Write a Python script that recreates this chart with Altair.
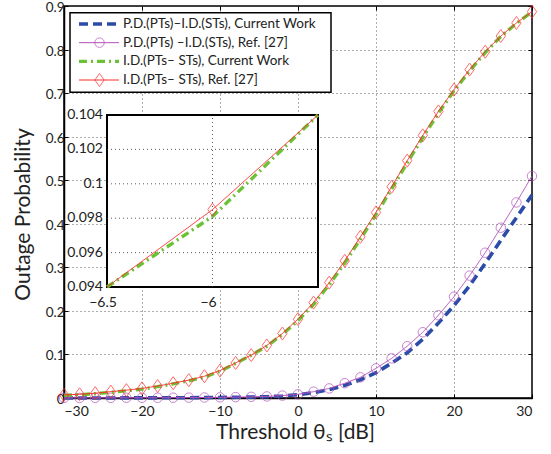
import altair as alt
import pandas as pd

# ---------------- data ----------------
x_db = list(range(-30, 31, 2))

# P.D.(PTs)-I.D.(STs), Current Work  (blue dashed)
pd_cur = [0.0, 0.0, 0.0001, 0.0001, 0.0002, 0.0003, 0.0004, 0.0005, 0.0007, 0.0009,
          0.0012, 0.0016, 0.0021, 0.003, 0.0045, 0.0075, 0.0125, 0.019, 0.029, 0.042,
          0.058, 0.080, 0.104, 0.135, 0.172, 0.212, 0.258, 0.309, 0.362, 0.414, 0.466]
# P.D.(PTs)-I.D.(STs), Ref. [27]  (magenta circles)
pd_ref = [0.0002, 0.0002, 0.0003, 0.0003, 0.0004, 0.0005, 0.0006, 0.0007, 0.0009, 0.0011,
          0.0015, 0.002, 0.0027, 0.0036, 0.0055, 0.0085, 0.0145, 0.022, 0.034, 0.0475,
          0.068, 0.091, 0.119, 0.151, 0.190, 0.2325, 0.281, 0.3335, 0.391, 0.449, 0.5096]
# I.D.(PTs-STs), Current Work  (green dash-dot)
id_cur = [0.006, 0.0075, 0.0098, 0.013, 0.0165, 0.0205, 0.026, 0.0325, 0.0395, 0.048,
          0.0615, 0.0795, 0.0981, 0.119, 0.146, 0.178, 0.215, 0.260, 0.310, 0.365,
          0.421, 0.480, 0.540, 0.598, 0.654, 0.705, 0.751, 0.793, 0.830, 0.860, 0.887]
# I.D.(PTs-STs), Ref. [27]  (red diamonds)
id_ref = [0.007, 0.0085, 0.011, 0.0145, 0.018, 0.022, 0.0275, 0.034, 0.041, 0.050,
          0.063, 0.0805, 0.0985, 0.1205, 0.148, 0.181, 0.219, 0.265, 0.315, 0.370,
          0.426, 0.485, 0.545, 0.603, 0.658, 0.708, 0.754, 0.795, 0.831, 0.861, 0.887]

series_names = [
    "P.D.(PTs)\u2013I.D.(STs), Current Work",
    "P.D.(PTs) \u2013I.D.(STs), Ref. [27]",
    "I.D.(PTs\u2013 STs), Current Work",
    "I.D.(PTs\u2013 STs), Ref. [27]",
]
series_values = [pd_cur, pd_ref, id_cur, id_ref]

x_ticks = [-30, -20, -10, 0, 10, 20, 30]
y_ticks = [0, 0.1, 0.2, 0.3, 0.4, 0.5, 0.6, 0.7, 0.8, 0.9]
inset_x_ticks = [-6.5, -6]
inset_x_labels = ["\u22126.5", "\u22126"]
inset_y_ticks = [0.094, 0.096, 0.098, 0.1, 0.102, 0.104]
inset_y_labels = ["0.094", "0.096", "0.098", "0.1", "0.102", "0.104"]
inset_x_dom = [-6.5, -5.5]
inset_y_dom = [0.094, 0.104]

# ---------------- styles ----------------
colors = ["#2a4ba8", "#b44fbb", "#6cc236", "#ff2b2b"]
dashes = [[9, 5], [1, 0], [8, 4, 2, 4], [1, 0]]
widths = [3.6, 1.0, 3.4, 1.0]
FONT = "Lato"
TXT = "#222"
DIAMOND = "M0,-1L0.72,0L0,1L-0.72,0Z"
W, H = 468, 392
INSET_X = [43, 254]
INSET_Y = [281, 109]

frames = []
for name, vals in zip(series_names, series_values):
    frames.append(pd.DataFrame({"x": x_db, "y": vals, "series": name}))
df = pd.concat(frames, ignore_index=True)

tick_in = {"expr": "-4"}

# ---------------- main plot ----------------
main_x_axis = alt.Axis(values=x_ticks, grid=True, gridDash=[1, 3], gridColor="#333",
                       gridOpacity=0.8, domainColor="black", domainWidth=1.5,
                       tickColor="black", tickSize=tick_in, labelPadding=10,
                       labelFontSize=14, labelColor=TXT, title="Threshold \u03b8\u209b [dB]",
                       titleFontSize=21, titleFontWeight="normal", titleX=231, titleY=34,
                       titleBaseline="middle", titleColor=TXT)
main_y_axis = alt.Axis(values=y_ticks, grid=True, gridDash=[1, 3], gridColor="#333",
                       gridOpacity=0.8, domainColor="black", domainWidth=1.5,
                       tickColor="black", tickSize=tick_in, labelPadding=4, labelOffset=1.5,
                       labelFontSize=13.5, labelColor=TXT,
                       labelExpr="datum.value == 0 ? '0' : format(datum.value, '.1f')",
                       title="Outage Probability", titleFontSize=21, titleFontWeight="normal",
                       titleX=-41, titleY=H / 2 + 12, titleBaseline="middle", titleAlign="center",
                       titleColor=TXT)

xs_main = alt.Scale(domain=[-30, 30], nice=False, zero=False)
ys_main = alt.Scale(domain=[0, 0.9], nice=False, zero=False)

main_layers = []
for i, name in enumerate(series_names):
    sub = alt.Chart(df).transform_filter(alt.datum.series == name)
    xa = main_x_axis if i == 0 else None
    ya = main_y_axis if i == 0 else None
    main_layers.append(
        sub.mark_line(color=colors[i], strokeDash=dashes[i], strokeWidth=widths[i]).encode(
            x=alt.X("x:Q", scale=xs_main, axis=xa),
            y=alt.Y("y:Q", scale=ys_main, axis=ya),
        )
    )
    if i in (1, 3):
        main_layers.append(
            sub.mark_point(shape="circle" if i == 1 else DIAMOND, size=90 if i == 1 else 170,
                           color=colors[i], strokeWidth=1, filled=False).encode(
                x=alt.X("x:Q", scale=xs_main, axis=None),
                y=alt.Y("y:Q", scale=ys_main, axis=None),
            )
        )

# top / right inward ticks
main_layers.append(
    alt.Chart(df).mark_point(opacity=0).encode(
        x=alt.X("x:Q", scale=xs_main, axis=alt.Axis(orient="top", values=x_ticks, labels=False,
                                                    grid=False, domain=False, tickColor="black",
                                                    tickSize=tick_in, title=None)),
        y=alt.Y("y:Q", scale=ys_main, axis=alt.Axis(orient="right", values=y_ticks, labels=False,
                                                    grid=False, domain=False, tickColor="black",
                                                    tickSize=tick_in, title=None)),
    )
)
main = alt.layer(*main_layers).resolve_axis(x="independent", y="independent")

# ---------------- inset ----------------
xs_in = alt.Scale(domain=inset_x_dom, range=INSET_X, clamp=True, nice=False, zero=False)
ys_in = alt.Scale(domain=inset_y_dom, range=INSET_Y, clamp=True, nice=False, zero=False)

box_df = pd.DataFrame({"x0": [inset_x_dom[0]], "x1": [inset_x_dom[1]],
                       "y0": [inset_y_dom[0]], "y1": [inset_y_dom[1]]})
inset_box = alt.Chart(box_df).mark_rect(fill="white", stroke="black", strokeWidth=2).encode(
    x=alt.X("x0:Q", scale=xs_in, axis=None), x2="x1:Q",
    y=alt.Y("y0:Q", scale=ys_in, axis=None), y2="y1:Q",
)

grid_h = pd.DataFrame({"y": inset_y_ticks[1:-1], "x0": inset_x_dom[0], "x1": inset_x_dom[1]})
grid_v = pd.DataFrame({"x": inset_x_ticks[1:], "y0": inset_y_dom[0], "y1": inset_y_dom[1]})
inset_gh = alt.Chart(grid_h).mark_rule(color="#333", strokeDash=[1, 3], opacity=0.8).encode(
    y=alt.Y("y:Q", scale=ys_in, axis=None),
    x=alt.X("x0:Q", scale=xs_in, axis=None), x2="x1:Q",
)
inset_gv = alt.Chart(grid_v).mark_rule(color="#333", strokeDash=[1, 3], opacity=0.8).encode(
    x=alt.X("x:Q", scale=xs_in, axis=None),
    y=alt.Y("y0:Q", scale=ys_in, axis=None), y2="y1:Q",
)

ylab_df = pd.DataFrame({"y": inset_y_ticks, "lab": inset_y_labels, "x": inset_x_dom[0]})
xlab_df = pd.DataFrame({"x": inset_x_ticks, "lab": inset_x_labels, "y": inset_y_dom[0]})
inset_ylab = alt.Chart(ylab_df).mark_text(align="right", baseline="middle", dx=-4, fontSize=14,
                                          font=FONT, color=TXT).encode(
    x=alt.X("x:Q", scale=xs_in, axis=None), y=alt.Y("y:Q", scale=ys_in, axis=None), text="lab:N")
inset_xlab = alt.Chart(xlab_df).mark_text(align="center", baseline="middle", dy=16, dx=-4,
                                          fontSize=14, font=FONT, color=TXT).encode(
    x=alt.X("x:Q", scale=xs_in, axis=None), y=alt.Y("y:Q", scale=ys_in, axis=None), text="lab:N")

inset_layers = [inset_box, inset_gh, inset_gv, inset_ylab, inset_xlab]
near = df[(df.x >= -8) & (df.x <= -4)]
for i in (2, 3):
    sub = alt.Chart(near).transform_filter(alt.datum.series == series_names[i])
    inset_layers.append(
        sub.mark_line(color=colors[i], strokeDash=dashes[i], strokeWidth=widths[i]).encode(
            x=alt.X("x:Q", scale=xs_in, axis=None),
            y=alt.Y("y:Q", scale=ys_in, axis=None),
        )
    )
inside = df[(df.x >= inset_x_dom[0]) & (df.x <= inset_x_dom[1]) & (df.series == series_names[3])]
inset_layers.append(
    alt.Chart(inside).mark_point(shape=DIAMOND, size=170, color=colors[3],
                                 strokeWidth=1, filled=False).encode(
        x=alt.X("x:Q", scale=xs_in, axis=None),
        y=alt.Y("y:Q", scale=ys_in, axis=None),
    )
)
inset = alt.layer(*inset_layers)

# ---------------- legend ----------------
leg_df = pd.DataFrame({"row": list(range(4)), "label": series_names})
ys_leg = alt.Scale(domain=[0, 3], range=[18, 74], nice=False, zero=False)
leg_layers = [
    alt.Chart(pd.DataFrame({"a": [-0.6], "b": [3.65]})).mark_rect(
        fill="white", stroke="black", strokeWidth=1.5).encode(
        x=alt.value(6), x2=alt.value(267),
        y=alt.Y("a:Q", scale=ys_leg, axis=None), y2="b:Q",
    )
]
for i, name in enumerate(series_names):
    sub = alt.Chart(leg_df).transform_filter(alt.datum.label == name)
    leg_layers.append(
        sub.mark_rule(color=colors[i], strokeDash=dashes[i], strokeWidth=widths[i]).encode(
            x=alt.value(15), x2=alt.value(55), y=alt.Y("row:Q", scale=ys_leg, axis=None)
        )
    )
    if i in (1, 3):
        leg_layers.append(sub.mark_point(shape="circle" if i == 1 else DIAMOND,
                                         size=90 if i == 1 else 170, color=colors[i],
                                         strokeWidth=1, filled=False).encode(
            x=alt.value(35.5), y=alt.Y("row:Q", scale=ys_leg, axis=None)))
leg_layers.append(
    alt.Chart(leg_df).mark_text(align="left", baseline="middle", fontSize=13.5, font=FONT,
                                color=TXT).encode(
        x=alt.value(59), y=alt.Y("row:Q", scale=ys_leg, axis=None), text="label:N"
    )
)
legend = alt.layer(*leg_layers)

chart = alt.layer(main, inset, legend).resolve_scale(x="independent", y="independent").properties(
    width=W, height=H,
    autosize=alt.AutoSizeParams(type="none"),
    padding={"left": 64, "top": 6, "right": 19, "bottom": 56},
    background="white",
).configure_view(stroke="black", strokeWidth=1.5).configure_axis(
    labelFont=FONT, titleFont=FONT
)

chart.save("out.html", embed_options={"renderer": "svg", "actions": False})
